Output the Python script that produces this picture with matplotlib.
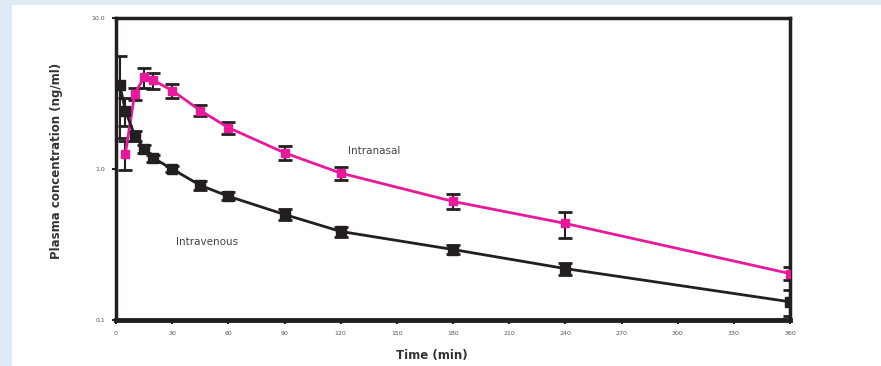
import matplotlib
matplotlib.use("Agg")
import matplotlib.pyplot as plt
from matplotlib.patches import Rectangle
from matplotlib.ticker import FixedLocator, NullLocator

# Data
iv_t = [2, 5, 10, 15, 20, 30, 45, 60, 90, 120, 180, 240, 360]
iv_c = [3.6, 2.44, 1.66, 1.36, 1.18, 1.0, 0.78, 0.66, 0.5, 0.386, 0.293, 0.219, 0.132]
iv_err = [2.0, 0.5, 0.12, 0.08, 0.06, 0.05, 0.05, 0.04, 0.04, 0.03, 0.02, 0.02, 0.025]

in_t = [5, 10, 15, 20, 30, 45, 60, 90, 120, 180, 240, 360]
in_c = [1.26, 3.16, 4.04, 3.86, 3.31, 2.44, 1.88, 1.28, 0.94, 0.61, 0.436, 0.203]
in_err = [0.27, 0.3, 0.6, 0.45, 0.35, 0.2, 0.18, 0.13, 0.09, 0.07, 0.085, 0.02]

x_ticks = [0, 30, 60, 90, 120, 150, 180, 210, 240, 270, 300, 330, 360]
y_ticks = [0.1, 1.0, 10.0]
y_ticklabels = ["0.1", "1.0", "10.0"]

W, H = 881, 366
fig = plt.figure(figsize=(W / 100, H / 100), dpi=100)
fig.patch.set_facecolor("#deebf7")
fig.patches.append(Rectangle((12 / W, 0), 1 - 12 / W, 1 - 5 / H,
                             transform=fig.transFigure, facecolor="white",
                             edgecolor="none", zorder=-10))

ax = fig.add_axes([116 / W, 1 - 320 / H, (790 - 116) / W, (320 - 18) / H])
ax.set_facecolor("white")
ax.set_yscale("log")
ax.set_xlim(0, 360)
ax.set_ylim(0.1, 10)

pink = "#e8199a"
dark = "#231f20"

ax.errorbar(in_t, in_c, yerr=in_err, fmt="none", ecolor=dark, elinewidth=1.5,
            capsize=5, capthick=2, zorder=3)
ax.plot(in_t, in_c, color=pink, lw=2, marker="s", ms=5.5, mfc=pink, mec=pink, zorder=4)

ax.errorbar(iv_t, iv_c, yerr=iv_err, fmt="none", ecolor=dark, elinewidth=1.5,
            capsize=5, capthick=2, zorder=3)
ax.plot(iv_t, iv_c, color=dark, lw=2, marker="s", ms=6.5, mfc=dark, mec=dark, zorder=5)

for s in ax.spines.values():
    s.set_linewidth(2.5)
    s.set_color(dark)
ax.spines["bottom"].set_linewidth(3.5)

ax.xaxis.set_major_locator(FixedLocator(x_ticks))
ax.set_xticklabels([str(v) for v in x_ticks])
ax.yaxis.set_major_locator(FixedLocator(y_ticks))
ax.yaxis.set_minor_locator(NullLocator())
ax.set_yticklabels(y_ticklabels)
ax.tick_params(axis="both", which="major", labelsize=4.5, labelcolor="#555555",
               length=3, width=1.5, color=dark, pad=5)

ax.text(124, 1.32, "Intranasal", fontsize=7.5, color="#444444", va="center", ha="left")
ax.text(32, 0.33, "Intravenous", fontsize=7.5, color="#444444", va="center", ha="left")

fig.text(432 / W, 1 - 355 / H, "Time (min)", fontsize=8.5, fontweight="bold",
         color="#333333", ha="center", va="center")
fig.text(57 / W, 1 - 161 / H, "Plasma concentration (ng/ml)", fontsize=8.5,
         fontweight="bold", color="#333333", ha="center", va="center", rotation=90)

fig.savefig("out.png", dpi=100, facecolor=fig.get_facecolor())
